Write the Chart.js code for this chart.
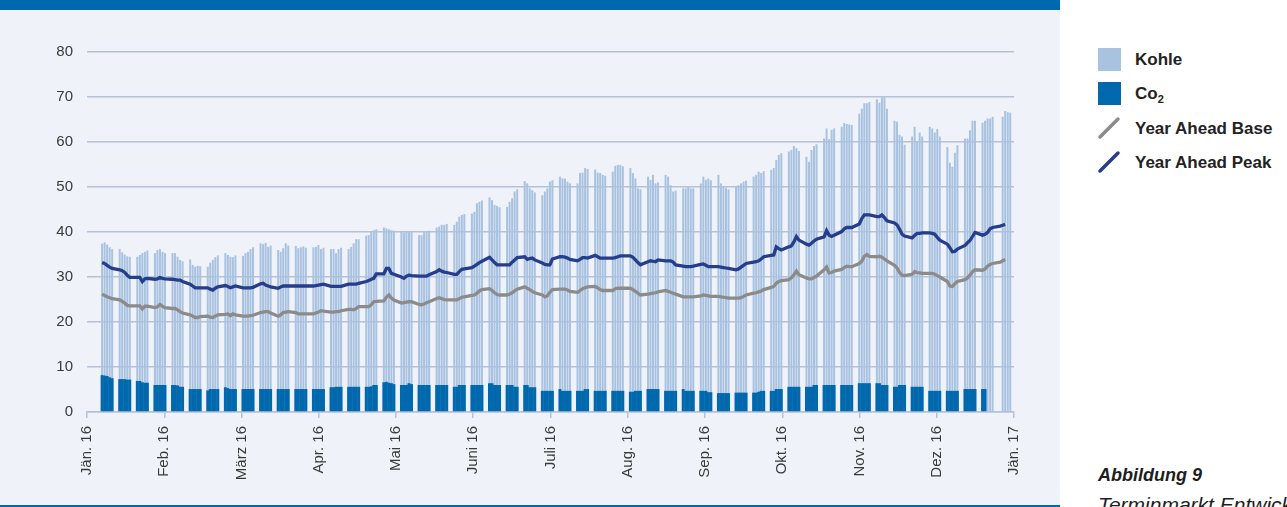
<!DOCTYPE html>
<html><head><meta charset="utf-8">
<script src="https://cdn.jsdelivr.net/npm/chart.js@4.4.1/dist/chart.umd.min.js"></script>
<style>
html,body{margin:0;padding:0;background:#fff;width:1287px;height:507px;overflow:hidden;font-family:"Liberation Sans",Arial,sans-serif;}
#panel{position:absolute;left:0;top:0;width:1060px;height:507px;background:#eff3f9;}
#band{position:absolute;left:0;top:0;width:1060px;height:10px;background:#0068ad;}
#foot{position:absolute;left:0;top:505px;width:1060px;height:2px;background:#0068ad;}
#c{position:absolute;left:0;top:10px;}
.box{position:absolute;left:1098px;width:23px;height:23px;}
.lt{position:absolute;left:1135px;font-weight:bold;font-size:17px;line-height:18px;color:#232323;white-space:nowrap;}
.cap1{position:absolute;left:1098px;top:466px;font-weight:bold;font-style:italic;font-size:18px;line-height:18px;color:#1e1e1e;white-space:nowrap;}
.cap2{position:absolute;left:1098px;top:494px;font-style:italic;font-size:21px;line-height:21px;color:#1e1e1e;white-space:nowrap;}
</style></head>
<body>
<div id="panel"></div>
<div id="band"></div>
<div id="foot"></div>
<canvas id="c" width="1060" height="495"></canvas>

<div class="box" style="top:48px;background:#a9c2e0"></div>
<div class="lt" style="top:51px">Kohle</div>
<div class="box" style="top:82px;background:#0068ad"></div>
<div class="lt" style="top:85px">Co<span style="font-size:11px;position:relative;top:4px">2</span></div>
<svg style="position:absolute;left:1094px;top:112px" width="32" height="64">
  <line x1="6" y1="25" x2="24" y2="7" stroke="#8b8b8b" stroke-width="3.5" stroke-linecap="round"/>
  <line x1="6" y1="59" x2="24" y2="41" stroke="#263d8c" stroke-width="3.5" stroke-linecap="round"/>
</svg>
<div class="lt" style="top:120px">Year Ahead Base</div>
<div class="lt" style="top:154px">Year Ahead Peak</div>

<div class="cap1">Abbildung 9</div>
<div class="cap2">Terminmarkt Entwicklung</div>

<script>
// Month tick labels (12 equal intervals on the axis)
const monthLabels = ['Jän. 16','Feb. 16','März 16','Apr. 16','Mai 16','Juni 16','Juli 16','Aug. 16','Sep. 16','Okt. 16','Nov. 16','Dez. 16','Jän. 17'];

// Trading days: 52 weeks x 5 days
const kohle = [
 37.4,37.7,37.2,36.6,36.2, 36.2,35.5,35.0,34.6,34.5, 34.5,34.9,35.3,35.6,35.9, 35.3,36.0,36.2,35.6,35.3,
 35.3,35.3,34.5,33.8,33.5, 33.9,32.7,32.3,32.5,32.4, 32.3,33.2,33.8,34.4,34.8, 35.3,34.9,34.5,34.4,34.8,
 34.7,35.3,35.6,36.2,36.6, 37.5,37.3,37.6,36.7,37.0, 36.0,35.6,36.4,37.5,37.0, 36.9,36.4,36.6,36.8,36.5,
 36.6,36.7,37.1,36.2,36.5, 36.2,36.2,35.3,36.2,36.5, 36.2,36.7,37.5,38.4,38.4, 39.2,39.3,40.1,40.4,40.6,
 41.0,40.8,40.6,40.4,40.3, 40.1,39.9,40.1,40.0,40.2, 39.3,39.3,40.1,40.1,40.3, 41.0,41.2,41.6,41.6,41.8,
 41.6,42.3,43.4,43.8,44.0, 44.1,44.5,46.4,46.7,47.0, 47.7,47.1,46.0,45.8,45.5, 45.6,46.7,47.5,49.0,49.5,
 51.3,50.8,49.7,49.3,48.8, 48.2,49.0,49.7,51.2,51.5, 52.3,51.9,51.9,51.2,50.8, 50.8,53.1,53.2,54.2,54.0,
 53.9,53.2,53.1,52.7,52.5, 53.4,54.7,54.9,54.9,54.6, 54.2,53.1,51.9,49.7,49.5, 52.3,51.6,52.7,50.8,51.0,
 52.7,52.3,50.4,49.0,49.2, 49.7,49.7,50.1,49.7,49.7, 50.8,52.3,51.6,51.9,51.5, 52.7,50.8,50.1,49.8,49.5,
 50.1,50.4,50.8,51.2,51.4, 52.3,52.7,53.4,53.1,53.5, 53.8,54.2,56.0,57.1,57.5, 57.9,58.2,59.1,58.6,58.0,
 56.7,55.6,58.2,59.1,59.5, 60.8,63.0,60.6,62.7,63.0, 63.4,64.2,64.0,63.9,63.8, 66.3,67.4,68.6,68.6,68.9,
 69.5,68.7,69.9,69.9,67.4, 64.7,64.5,61.6,61.2,59.4, 61.2,63.4,60.2,62.1,61.2, 63.4,63.0,62.1,62.9,61.2,
 58.9,55.4,54.5,57.6,59.3, 60.8,60.8,62.6,64.7,64.7, 64.3,64.7,65.2,65.2,65.6, null,65.6,66.9,66.6,66.5
];
const co2 = [
 8.2,8.1,8.0,7.7,7.5, 7.3,7.3,7.3,7.2,7.2, 6.9,6.9,6.6,6.5,6.5, 6.0,6.0,6.0,6.0,6.0,
 6.0,6.0,5.9,5.6,5.6, 5.1,5.1,5.1,5.1,5.1, 4.8,5.1,5.1,5.1,5.1, 5.5,5.3,5.1,5.1,5.1,
 5.1,5.1,5.1,5.1,5.1, 5.1,5.1,5.1,5.1,5.1, 5.1,5.1,5.1,5.1,5.1, 5.1,5.1,5.1,5.1,5.1,
 5.1,5.1,5.1,5.1,5.1, 5.5,5.5,5.6,5.6,5.6, 5.6,5.6,5.6,5.6,5.6, 5.6,5.6,5.7,6.0,6.0,
 6.6,6.7,6.5,6.4,6.2, 6.0,6.0,6.0,6.4,6.2, 6.0,6.0,6.0,6.0,6.0, 6.0,6.0,6.0,6.0,6.0,
 5.6,5.6,6.0,6.0,6.0, 6.0,6.0,6.0,6.0,6.0, 6.4,6.4,6.0,6.0,6.0, 6.0,6.0,6.0,5.6,5.6,
 6.0,6.0,5.5,5.5,5.5, 4.7,4.7,4.7,4.7,4.7, 5.1,4.7,4.7,4.7,4.7, 4.7,4.7,4.7,5.1,5.1,
 4.7,4.7,4.7,4.7,4.7, 4.7,4.7,4.7,4.7,4.7, 4.5,4.5,4.7,4.7,4.7, 5.1,5.1,5.1,5.1,5.1,
 4.7,4.7,4.7,4.7,4.7, 5.1,4.7,4.7,4.7,4.7, 4.7,4.7,4.7,4.4,4.4, 4.2,4.2,4.2,4.2,4.2,
 4.3,4.3,4.3,4.3,4.3, 4.3,4.3,4.5,4.7,4.7, 4.7,4.7,5.1,5.1,5.1, 5.6,5.6,5.6,5.6,5.6,
 5.6,5.6,5.6,6.0,6.0, 6.0,6.0,6.0,6.0,6.0, 6.0,6.0,6.0,6.0,6.0, 6.4,6.4,6.4,6.4,6.4,
 6.4,6.4,6.0,6.0,6.0, 5.6,5.6,6.0,6.0,6.0, 5.6,5.6,5.6,5.6,5.6, 4.7,4.7,4.7,4.7,4.7,
 4.7,4.7,4.7,4.7,4.7, 5.1,5.1,5.1,5.1,5.1, 5.1,5.1,null,null,null, null,null,null,null,null
];
const yaBase = [
 26.2,25.9,25.6,25.4,25.2, 24.9,24.6,24.2,23.7,23.6, 23.6,23.6,22.9,23.5,23.5, 23.2,23.4,23.9,23.5,23.2,
 23.0,23.0,22.7,22.3,22.0, 21.6,21.3,21.0,21.0,21.2, 21.3,21.1,21.0,21.3,21.6, 21.7,21.8,21.4,21.8,21.6,
 21.3,21.3,21.3,21.4,21.5, 22.1,22.2,22.3,22.3,22.0, 21.3,21.6,22.1,22.2,22.3, 22.1,21.8,21.8,21.8,21.8,
 21.8,22.0,22.2,22.5,22.4, 22.2,22.2,22.3,22.3,22.5, 22.8,22.8,22.7,23.0,23.4, 23.4,23.4,23.8,24.5,24.6,
 24.7,25.5,26.0,25.3,24.9, 24.2,24.3,24.4,24.5,24.5, 23.9,23.8,24.0,24.3,24.5, 25.2,25.4,25.2,25.0,24.9,
 24.9,24.9,25.2,25.5,25.6, 25.9,26.0,26.4,26.9,27.2, 27.4,27.0,26.5,26.1,26.0, 26.0,26.2,26.5,26.9,27.3,
 27.8,27.5,27.2,26.8,26.5, 26.0,25.6,25.8,26.6,27.2, 27.3,27.3,27.3,27.1,26.8, 26.6,27.0,27.4,27.6,27.8,
 27.9,27.6,27.2,27.0,27.0, 27.0,27.4,27.5,27.5,27.5, 27.5,27.2,26.8,26.4,26.0, 26.2,26.3,26.4,26.5,26.7,
 27.0,26.8,26.6,26.4,26.2, 25.6,25.6,25.6,25.6,25.6, 25.8,26.0,25.9,25.8,25.7, 25.7,25.6,25.5,25.4,25.3,
 25.3,25.3,25.4,25.7,26.0, 26.4,26.5,26.7,26.9,27.2, 27.7,27.9,28.6,29.0,29.2, 29.4,29.8,30.5,31.3,30.5,
 29.8,29.6,29.6,29.9,30.2, 31.6,32.2,30.9,31.0,31.3, 31.7,32.1,32.4,32.3,32.3, 33.0,33.5,34.6,35.0,34.6,
 34.5,34.6,34.4,34.0,33.6, 32.6,32.0,31.0,30.4,30.3, 30.6,31.2,31.0,30.9,30.8, 30.8,30.8,30.6,30.3,30.0,
 29.0,28.0,27.9,28.5,29.0, 29.4,29.8,30.4,31.2,31.6, 31.5,31.8,32.4,32.8,33.0, 33.3,33.6,33.9,null,null
];
const yaPeak = [
 33.2,33.0,32.6,32.2,31.9, 31.6,31.4,31.0,30.4,29.9, 29.9,29.9,29.0,29.6,29.7, 29.5,29.6,29.9,29.7,29.6,
 29.5,29.4,29.3,29.3,29.0, 28.4,28.0,27.6,27.6,27.6, 27.6,27.3,27.1,27.5,27.8, 28.1,27.9,27.6,27.8,28.0,
 27.6,27.6,27.6,27.6,27.7, 28.5,28.6,28.2,28.0,27.8, 27.5,27.8,28.0,28.0,28.0, 28.0,28.0,28.0,28.0,28.0,
 28.0,28.1,28.2,28.3,28.4, 27.9,27.9,27.9,27.9,27.9, 28.4,28.4,28.4,28.4,28.6, 29.0,29.2,29.5,29.7,30.7,
 30.7,31.9,31.9,30.8,30.6, 30.0,29.7,30.2,30.4,30.3, 30.2,30.2,30.2,30.2,30.5, 31.2,31.6,31.3,31.1,31.0,
 30.6,30.6,31.2,31.7,31.8, 32.1,32.4,32.8,33.2,33.5, 34.4,33.8,33.2,32.7,32.7, 32.7,32.7,33.3,33.8,34.3,
 34.5,33.9,34.1,34.2,33.8, 33.1,32.8,32.7,32.7,34.0, 34.5,34.5,34.4,34.2,33.9, 33.6,33.9,34.3,34.3,34.2,
 34.8,34.5,34.2,34.2,34.2, 34.2,34.3,34.5,34.7,34.7, 34.7,34.4,33.8,33.2,32.7, 33.4,33.6,33.5,33.4,33.8,
 33.6,33.6,33.6,33.3,32.7, 32.4,32.3,32.3,32.3,32.4, 32.8,32.9,32.6,32.3,32.3, 32.3,32.2,32.1,32.0,31.9,
 31.6,31.8,32.2,32.6,33.0, 33.3,33.4,33.6,34.0,34.5, 34.8,34.9,36.7,36.3,36.0, 36.7,36.9,37.8,39.0,38.2,
 37.3,37.1,37.5,38.0,38.4, 38.9,40.3,39.3,39.0,39.3, 40.1,40.7,41.0,41.0,41.0, 41.8,43.0,43.8,43.8,43.8,
 43.4,43.4,43.8,43.2,42.5, 42.0,41.6,40.6,39.5,39.1, 38.7,39.2,39.7,39.7,39.8, 39.8,39.7,39.5,38.8,38.2,
 37.3,36.5,35.6,35.7,36.2, 37.0,37.6,38.1,39.0,39.9, 39.3,39.5,39.9,40.7,41.0, 41.3,41.5,41.7,null,null
];

// Axis geometry in day units
const AXIS_END = 368.5;   // span covered by the 12 month intervals
const FIRST_DAY = 6;      // position of the first trading day
const dayPos = kohle.map((_, i) => FIRST_DAY + 7 * Math.floor(i / 5) + (i % 5));
const pts = arr => arr.map((v, i) => ({ x: dayPos[i], y: v }));

const GRID = '#b6c1d6';
const TXT = '#3a3a3a';
const FONT = { family: "'Liberation Sans', Arial, sans-serif", size: 15 };

new Chart(document.getElementById('c').getContext('2d'), {
  type: 'bar',
  data: {
    datasets: [
      { type: 'line', label: 'Year Ahead Peak', data: pts(yaPeak), borderColor: '#263d8c', borderWidth: 3.3,
        pointRadius: 0, spanGaps: true, tension: 0, order: 0 },
      { type: 'line', label: 'Year Ahead Base', data: pts(yaBase), borderColor: '#8b8b8b', borderWidth: 3.3,
        pointRadius: 0, spanGaps: true, tension: 0, order: 1 },
      { label: 'Co2', data: pts(co2), backgroundColor: '#0068ad', barPercentage: 1.18, categoryPercentage: 1,
        grouped: false, order: 2 },
      { label: 'Kohle', data: pts(kohle), backgroundColor: '#a9c2e0', barPercentage: 0.8, categoryPercentage: 1,
        grouped: false, order: 3 }
    ]
  },
  options: {
    responsive: false, animation: false, events: [],
    plugins: { legend: { display: false }, tooltip: { enabled: false } },
    layout: { padding: { left: 0, right: 46, top: 42, bottom: 0 } },
    scales: {
      x: {
        type: 'linear', min: 0, max: AXIS_END, offset: false,
        grid: { offset: false, drawOnChartArea: false, drawTicks: true, tickLength: 6, color: GRID, lineWidth: 1.5 },
        border: { display: true, color: GRID, width: 1.5 },
        afterBuildTicks: s => { s.ticks = monthLabels.map((_, i) => ({ value: i * AXIS_END / 12 })); },
        afterFit: s => { s.height = 93; },
        ticks: { autoSkip: false, maxRotation: 90, minRotation: 90, padding: 8, color: TXT, font: FONT,
          callback: (v, i) => monthLabels[i] }
      },
      y: {
        min: 0, max: 80,
        ticks: { stepSize: 10, padding: 14, color: TXT, font: FONT },
        grid: { color: GRID, lineWidth: 1.5, drawTicks: false },
        border: { display: false },
        afterFit: s => { s.width = 87; }
      }
    }
  }
});
</script>
</body></html>
